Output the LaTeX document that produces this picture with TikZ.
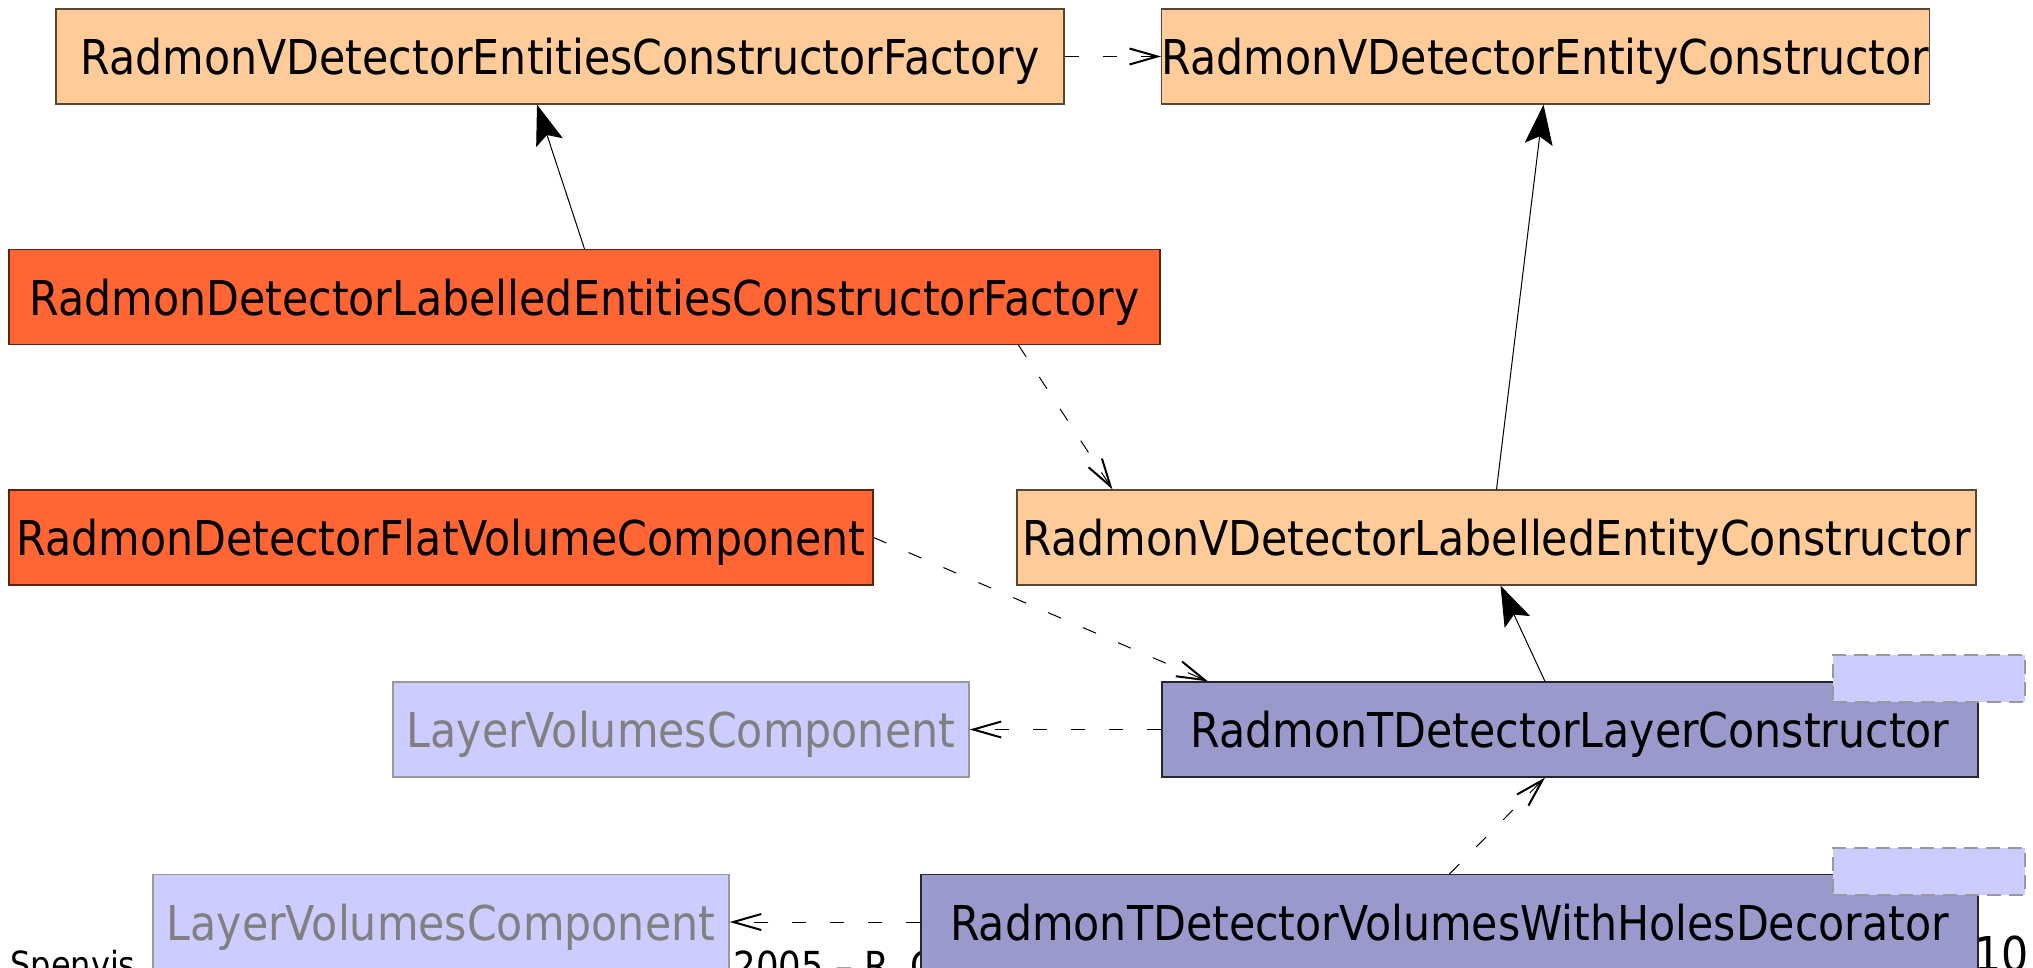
\documentclass[tikz,border=0pt]{standalone}
\usepackage{fontspec}
\setmainfont{DejaVu Sans}
\newfontfamily\narrowsans[FakeStretch=0.89]{DejaVu Sans}
\usepackage{tikz}
\usetikzlibrary{arrows.meta,positioning}

\definecolor{peach}{HTML}{FFCC99}
\definecolor{rust}{HTML}{FF6633}
\definecolor{lilac}{HTML}{CCCCFF}
\definecolor{slate}{HTML}{9999CC}

\begin{document}
\begin{tikzpicture}[x=0.5pt, y=-0.5pt,
    cls/.style={draw, line width=0.6pt, minimum height=47.5pt, inner sep=0pt, text height=19pt, text depth=1pt, font=\narrowsans\fontsize{24}{28}\selectfont},
    abstractcls/.style={cls, fill=peach, draw=peach!35!black},
    concretecls/.style={cls, fill=rust, draw=rust!35!black},
    templcls/.style={cls, fill=slate, draw=slate!25!black},
    extcls/.style={cls, fill=lilac, draw=gray!80, text=gray},
    tparam/.style={draw=gray!80, line width=0.8pt, dash pattern=on 7pt off 4pt, fill=lilac, minimum width=96pt, minimum height=23.5pt, inner sep=0pt},
    uses/.style={line width=0.5pt, dash pattern=on 7pt off 12pt, -{Straight Barb[length=14pt,width=8pt,line width=1pt]}},
    inherits/.style={line width=0.5pt, -{Stealth[length=20pt,width=14pt,inset=4pt]}},
    footer/.style={anchor=north west, inner sep=0pt}]
        \useasboundingbox (0,0) rectangle (2033,968);

        % Footer (mostly hidden)
        \node[footer, font=\narrowsans\fontsize{18}{21}\selectfont] (spenvis) at (10,950) {Spenvis};
        \node[footer, font=\narrowsans\fontsize{20}{24}\selectfont] (year) at (733,950) {2005 – R. C};
        \node[footer, font=\narrowsans\fontsize{24}{28}\selectfont] (page) at (1974,935) {10};

        % Classes
        \node[abstractcls, minimum width=504pt] (factory) at (560,56.5) {RadmonVDetectorEntitiesConstructorFactory};
        \node[abstractcls, minimum width=383.5pt] (entity) at (1545.5,56.5) {RadmonVDetectorEntityConstructor};
        \node[concretecls, minimum width=575.5pt] (labfactory) at (584.5,297) {RadmonDetectorLabelledEntitiesConstructorFactory};
        \node[concretecls, minimum width=432pt] (flat) at (441,537.5) {RadmonDetectorFlatVolumeComponent};
        \node[abstractcls, minimum width=479.5pt] (labentity) at (1496.5,537.5) {RadmonVDetectorLabelledEntityConstructor};
        \node[extcls, minimum width=288pt] (layervol) at (681,729.5) {LayerVolumesComponent};
        \node[templcls, minimum width=408pt] (layer) at (1570,729.5) {RadmonTDetectorLayerConstructor};
        \node[extcls, minimum width=288pt] (layervolb) at (441,922) {LayerVolumesComponent};
        \node[templcls, minimum width=528.5pt] (holes) at (1449.5,922) {RadmonTDetectorVolumesWithHolesDecorator};

        % Template parameters
        \node[tparam] (layerparam) at (1929,678.5) {};
        \node[tparam] (holesparam) at (1929,871.5) {};

        % Inheritance
        \draw[inherits] (labfactory.north) -- ([xshift=-11.5pt]factory.south);
        \draw[inherits] (labentity.north) -- ([xshift=-1pt]entity.south);
        \draw[inherits] ([xshift=-12.5pt]layer.north) -- ([xshift=2pt]labentity.south);

        % Dependencies
        \draw[uses] (factory.east) -- (entity.west);
        \draw[uses] ([xshift=217pt]labfactory.south) -- ([xshift=-192pt]labentity.north);
        \draw[uses] (flat.east) -- ([xshift=-181pt]layer.north);
        \draw[uses] (layer.west) -- (layervol.east);
        \draw[uses] (holes.north) -- ([xshift=-12.5pt]layer.south);
        \draw[uses] (holes.west) -- (layervolb.east);

    \end{tikzpicture}
\end{document}
